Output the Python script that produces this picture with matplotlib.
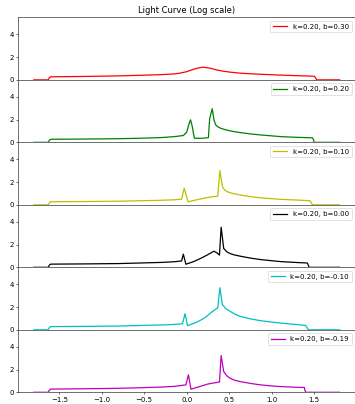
import matplotlib
matplotlib.use("Agg")
import matplotlib.pyplot as plt

# impact parameters and colours for each panel
k = 0.20
b_values = [0.30, 0.20, 0.10, 0.00, -0.10, -0.19]
colors = ["r", "g", "y", "k", "c", "m"]

# light curves, one (x, flux) pair per impact parameter
x_b030 = [-1.8, -1.63, -1.615, -1.6, -1.2, -0.8, -0.55, -0.3, -0.15, -0.08, 0.0,
          0.04, 0.12, 0.19, 0.28, 0.35, 0.43, 0.52, 0.63, 0.74, 0.85, 1.03,
          1.25, 1.5, 1.515, 1.53, 1.8]
y_b030 = [0, 0, 0.2, 0.27, 0.30, 0.35, 0.40, 0.46, 0.52, 0.59, 0.72,
          0.83, 1.02, 1.12, 1.02, 0.88, 0.76, 0.67, 0.59, 0.54, 0.50, 0.44,
          0.38, 0.32, 0.2, 0, 0]

x_b020 = [-1.8, -1.63, -1.615, -1.6, -1.2, -0.8, -0.55, -0.3, -0.15, -0.04, 0.0,
          0.03, 0.045, 0.065, 0.08, 0.09, 0.18, 0.255, 0.27, 0.30, 0.32, 0.34,
          0.37, 0.40, 0.45, 0.5, 0.56, 0.63, 0.75, 0.87, 1.0, 1.11, 1.3, 1.48,
          1.49, 1.50, 1.8]
y_b020 = [0, 0, 0.2, 0.27, 0.29, 0.32, 0.36, 0.42, 0.50, 0.60, 0.90,
          1.70, 1.98, 1.40, 0.75, 0.36, 0.36, 0.41, 2.10, 2.96, 2.00, 1.54,
          1.35, 1.24, 1.12, 1.03, 0.94, 0.86, 0.74, 0.65, 0.57, 0.50, 0.44, 0.40,
          0.25, 0, 0]

x_b010 = [-1.8, -1.63, -1.615, -1.6, -1.2, -0.8, -0.55, -0.3, -0.15, -0.06, -0.03,
          0.0, 0.015, 0.08, 0.16, 0.23, 0.30, 0.365, 0.39, 0.42, 0.445, 0.475,
          0.53, 0.63, 0.75, 0.87, 1.0, 1.11, 1.3, 1.45, 1.465, 1.48, 1.8]
y_b010 = [0, 0, 0.2, 0.27, 0.29, 0.32, 0.36, 0.40, 0.44, 0.50, 1.46,
          0.71, 0.27, 0.38, 0.51, 0.62, 0.71, 0.76, 3.02, 1.60, 1.32, 1.16,
          1.02, 0.86, 0.72, 0.62, 0.54, 0.48, 0.42, 0.36, 0.2, 0, 0]

x_b000 = [-1.8, -1.63, -1.615, -1.6, -1.2, -0.8, -0.55, -0.3, -0.15, -0.06, -0.04,
          -0.01, 0.08, 0.16, 0.25, 0.32, 0.36, 0.385, 0.405, 0.435, 0.47, 0.51,
          0.56, 0.63, 0.75, 0.87, 1.0, 1.11, 1.3, 1.42, 1.43, 1.44, 1.8]
y_b000 = [0, 0, 0.2, 0.28, 0.30, 0.33, 0.38, 0.43, 0.49, 0.56, 1.16,
          0.27, 0.50, 0.77, 1.12, 1.42, 1.25, 1.07, 3.53, 1.66, 1.38, 1.21,
          1.09, 0.98, 0.81, 0.68, 0.58, 0.50, 0.42, 0.38, 0.2, 0, 0]

x_bm010 = [-1.8, -1.63, -1.615, -1.6, -1.2, -0.8, -0.55, -0.3, -0.15, -0.05, -0.02,
           0.01, 0.1, 0.16, 0.22, 0.28, 0.33, 0.365, 0.39, 0.42, 0.46, 0.51,
           0.56, 0.63, 0.75, 0.87, 1.0, 1.11, 1.3, 1.40, 1.415, 1.43, 1.8]
y_bm010 = [0, 0, 0.2, 0.28, 0.30, 0.33, 0.38, 0.42, 0.47, 0.53, 1.42,
           0.36, 0.62, 0.83, 1.10, 1.48, 1.75, 1.93, 3.70, 2.22, 1.86, 1.63,
           1.40, 1.18, 0.96, 0.80, 0.68, 0.59, 0.46, 0.38, 0.2, 0, 0]

x_bm019 = [-1.8, -1.63, -1.615, -1.6, -1.2, -0.8, -0.55, -0.3, -0.15, -0.01, 0.02,
           0.05, 0.15, 0.24, 0.30, 0.385, 0.405, 0.435, 0.47, 0.51, 0.56, 0.63,
           0.75, 0.87, 1.0, 1.11, 1.3, 1.385, 1.39, 1.40, 1.8]
y_bm019 = [0, 0, 0.2, 0.28, 0.31, 0.35, 0.40, 0.46, 0.52, 0.65, 1.54,
           0.27, 0.50, 0.71, 0.80, 0.90, 3.23, 1.83, 1.46, 1.24, 1.07, 0.94,
           0.78, 0.65, 0.56, 0.50, 0.44, 0.42, 0.2, 0, 0]

curves = [(x_b030, y_b030), (x_b020, y_b020), (x_b010, y_b010),
          (x_b000, y_b000), (x_bm010, y_bm010), (x_bm019, y_bm019)]

fig, axes = plt.subplots(len(b_values), 1, sharex=True, sharey=True,
                         figsize=(7.1, 8.08), dpi=50)
fig.subplots_adjust(left=0.052, right=1.0, top=0.957, bottom=0.029, hspace=0)

for ax, (xs, ys), b, c in zip(axes, curves, b_values, colors):
    ax.plot(xs, ys, color=c, lw=1.8, label=f"k={k:.2f}, b={b:.2f}")
    ax.legend(loc="upper right")

axes[0].set_ylim(0, 5.5)
axes[0].set_title("Light Curve (Log scale)")

fig.savefig("out.png", dpi=50)
